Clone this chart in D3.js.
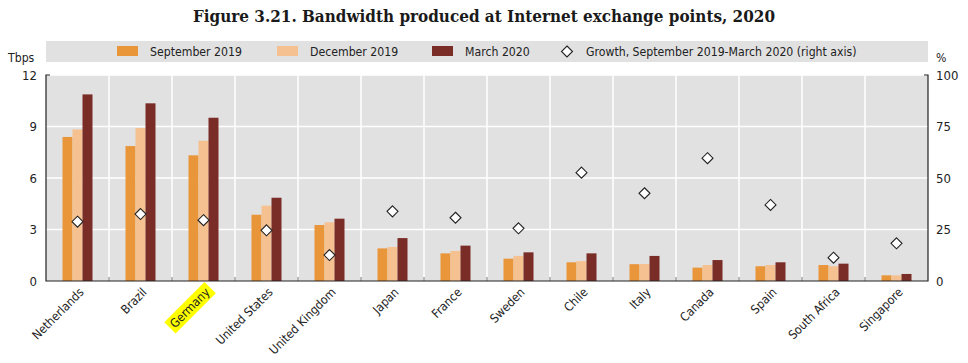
<!DOCTYPE html>
<html>
<head>
<meta charset="utf-8">
<script src="https://cdn.jsdelivr.net/npm/d3@7"></script>
<style>
  body { margin: 0; background: #fff; }
  svg { display: block; font-family: "DejaVu Sans Condensed", "DejaVu Sans", sans-serif; font-stretch: condensed; }
  .title { font-family: "DejaVu Serif", serif; font-weight: bold; font-stretch: condensed; }
</style>
</head>
<body>
<svg id="chart" width="968" height="363"></svg>
<script>
var countries = ["Netherlands", "Brazil", "Germany", "United States", "United Kingdom", "Japan", "France",
  "Sweden", "Chile", "Italy", "Canada", "Spain", "South Africa", "Singapore"];
var sep2019 = [8.39, 7.86, 7.32, 3.86, 3.26, 1.90, 1.61, 1.30, 1.09, 0.98, 0.78, 0.86, 0.93, 0.33];
var dec2019 = [8.83, 8.91, 8.17, 4.39, 3.42, 1.98, 1.75, 1.46, 1.16, 0.99, 0.93, 0.93, 0.86, 0.33];
var mar2020 = [10.87, 10.35, 9.51, 4.85, 3.63, 2.50, 2.06, 1.67, 1.61, 1.46, 1.22, 1.09, 1.01, 0.41];
var growth = [28.8, 32.5, 29.5, 24.6, 12.6, 33.8, 30.7, 25.6, 52.6, 42.6, 59.6, 36.9, 11.3, 18.3];
var leftTicks = [0, 3, 6, 9, 12];
var rightTicks = [0, 25, 50, 75, 100];
var seriesNames = ["September 2019", "December 2019", "March 2020"];
var seriesColors = ["#e9953a", "#f5c190", "#7a2d27"];
var highlighted = "Germany";

var svg = d3.select("#chart"),
  M = { top: 75, right: 40, bottom: 82, left: 46 },
  W = 968, H = 363,
  plotW = W - M.left - M.right,
  plotBottom = H - M.bottom,
  FS = 12.2;

var series = [sep2019, dec2019, mar2020];

var x = d3.scaleBand().domain(countries).range([M.left, M.left + plotW]).padding(0),
  xInner = d3.scaleBand().domain(d3.range(3)).range([0, x.bandwidth()]).paddingInner(0).paddingOuter(1.65),
  yL = d3.scaleLinear().domain([0, 12]).range([plotBottom, M.top]),
  yR = d3.scaleLinear().domain([0, 100]).range([plotBottom, M.top]);

// title
svg.append("text")
  .attr("class", "title")
  .attr("x", W / 2)
  .attr("y", 22)
  .attr("text-anchor", "middle")
  .attr("font-size", 16)
  .attr("fill", "#1a1a1a")
  .attr("textLength", 582)
  .attr("lengthAdjust", "spacingAndGlyphs")
  .text("Figure 3.21. Bandwidth produced at Internet exchange points, 2020");

// legend band
svg.append("rect")
  .attr("x", M.left).attr("y", 41)
  .attr("width", plotW).attr("height", 21)
  .attr("fill", "#e1e1e1");

var legendX = [117, 277, 432];
seriesNames.forEach(function (name, i) {
  svg.append("rect")
    .attr("x", legendX[i]).attr("y", 46)
    .attr("width", 21).attr("height", 10)
    .attr("fill", seriesColors[i]);
  svg.append("text")
    .attr("x", legendX[i] + 33).attr("y", 56)
    .attr("font-size", FS).attr("fill", "#222")
    .text(name);
});
svg.append("path")
  .attr("d", "M0,-5.5L5.5,0L0,5.5L-5.5,0Z")
  .attr("transform", "translate(567,51.5)")
  .attr("fill", "#fff").attr("stroke", "#222").attr("stroke-width", 1.1);
svg.append("text")
  .attr("x", 586).attr("y", 56)
  .attr("font-size", FS).attr("fill", "#222")
  .text("Growth, September 2019-March 2020 (right axis)");

// unit labels
svg.append("text").attr("x", 8).attr("y", 62).attr("font-size", FS).attr("fill", "#222").text("Tbps");
svg.append("text").attr("x", 936).attr("y", 62).attr("font-size", FS).attr("fill", "#222").text("%");

// plot background
svg.append("rect")
  .attr("x", M.left).attr("y", M.top)
  .attr("width", plotW).attr("height", plotBottom - M.top)
  .attr("fill", "#e1e1e1");

// horizontal gridlines
svg.append("g")
  .selectAll("line")
  .data(leftTicks.filter(function (d) { return d > 0; }))
  .enter().append("line")
  .attr("x1", M.left).attr("x2", M.left + plotW)
  .attr("y1", function (d) { return yL(d); })
  .attr("y2", function (d) { return yL(d); })
  .attr("stroke", "#fff").attr("stroke-width", 1.5);

// vertical gridlines between categories
svg.append("g")
  .selectAll("line")
  .data(countries.slice(1))
  .enter().append("line")
  .attr("x1", function (d) { return x(d); })
  .attr("x2", function (d) { return x(d); })
  .attr("y1", M.top).attr("y2", plotBottom)
  .attr("stroke", "#fff").attr("stroke-width", 1.5);

// category ticks on the baseline
svg.append("g")
  .selectAll("line")
  .data(countries.slice(1))
  .enter().append("line")
  .attr("x1", function (d) { return x(d); })
  .attr("x2", function (d) { return x(d); })
  .attr("y1", plotBottom - 4).attr("y2", plotBottom)
  .attr("stroke", "#777").attr("stroke-width", 1);

// bars
series.forEach(function (vals, s) {
  svg.append("g")
    .selectAll("rect")
    .data(vals)
    .enter().append("rect")
    .attr("x", function (d, i) { return x(countries[i]) + xInner(s); })
    .attr("width", xInner.bandwidth())
    .attr("y", function (d) { return yL(d); })
    .attr("height", function (d) { return plotBottom - yL(d); })
    .attr("fill", seriesColors[s]);
});

// growth diamonds
svg.append("g")
  .selectAll("path")
  .data(growth)
  .enter().append("path")
  .attr("d", "M0,-5.5L5.5,0L0,5.5L-5.5,0Z")
  .attr("transform", function (d, i) {
    return "translate(" + (x(countries[i]) + x.bandwidth() / 2) + "," + yR(d) + ")";
  })
  .attr("fill", "#fff").attr("stroke", "#222").attr("stroke-width", 1.1);

// axes
var leftAxis = d3.axisLeft(yL).tickValues(leftTicks).tickSize(0).tickPadding(9);
var rightAxis = d3.axisRight(yR).tickValues(rightTicks).tickSize(0).tickPadding(8);

var gl = svg.append("g").attr("transform", "translate(" + M.left + ",0)").call(leftAxis);
var gr = svg.append("g").attr("transform", "translate(" + (M.left + plotW) + ",0)").call(rightAxis);
[gl, gr].forEach(function (g) {
  g.select(".domain").remove();
  g.selectAll("text").attr("font-size", FS + 0.8).attr("fill", "#222")
    .style("font-family", "\"DejaVu Sans Condensed\", sans-serif");
});

// axis lines
svg.append("path")
  .attr("d", "M" + (M.left + 4) + "," + M.top + "H" + M.left + "V" + plotBottom + "H" + (M.left + plotW) +
    "V" + M.top + "H" + (M.left + plotW - 4))
  .attr("fill", "none").attr("stroke", "#222").attr("stroke-width", 1.2);

// category labels
var labels = svg.append("g")
  .selectAll("g")
  .data(countries)
  .enter().append("g")
  .attr("transform", function (d) {
    return "translate(" + (x(d) + x.bandwidth() / 2 + 4) + "," + (plotBottom + 9) + ") rotate(-45)";
  });

labels.append("text")
  .attr("text-anchor", "end")
  .attr("dy", "0.35em")
  .attr("font-size", FS)
  .attr("fill", "#222")
  .text(function (d) { return d; });

labels.filter(function (d) { return d === highlighted; })
  .each(function () {
    var t = d3.select(this).select("text"),
      b = t.node().getBBox();
    d3.select(this).insert("rect", "text")
      .attr("x", b.x - 3).attr("y", b.y - 1)
      .attr("width", b.width + 6).attr("height", b.height + 2)
      .attr("fill", "#ffff00");
  });
</script>
</body>
</html>
